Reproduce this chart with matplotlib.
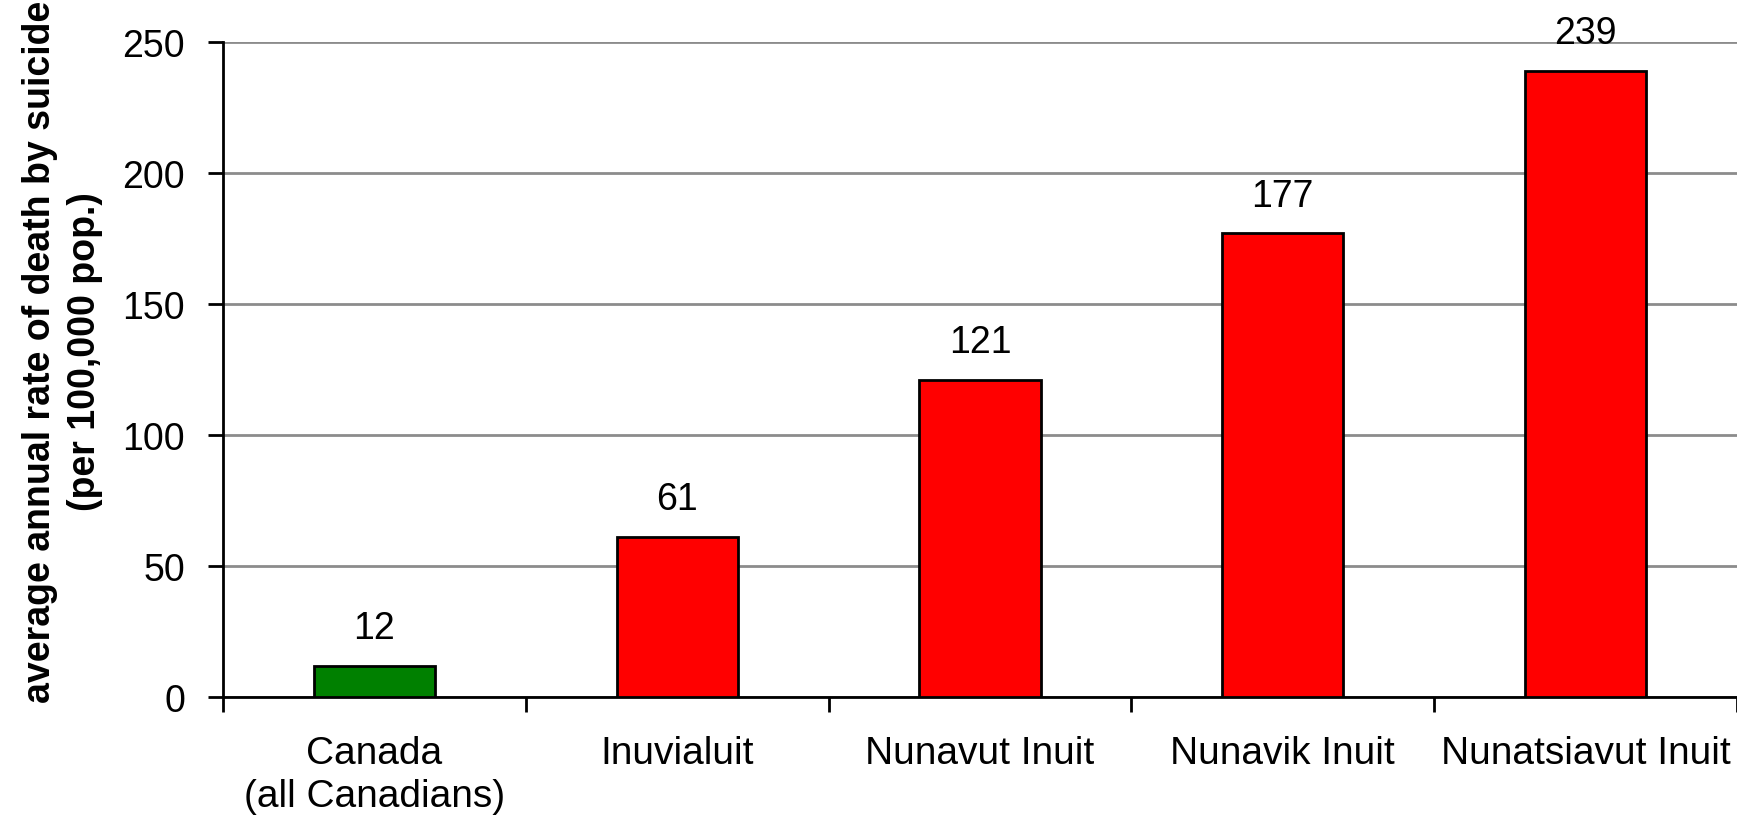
import matplotlib
matplotlib.use("Agg")
import matplotlib.pyplot as plt
import numpy as np

plt.rcParams['font.family'] = ['Liberation Sans', 'DejaVu Sans']

# data
categories = ['Canada\n(all Canadians)', 'Inuvialuit', 'Nunavut Inuit',
              'Nunavik Inuit', 'Nunatsiavut Inuit']
rates = [12, 61, 121, 177, 239]
colours = ['#008000', '#FF0000', '#FF0000', '#FF0000', '#FF0000']
yticks = [0, 50, 100, 150, 200, 250]

fig = plt.figure(figsize=(17.37, 8.28), dpi=100)
ax = fig.add_axes([0.1284, 0.157, 0.8716, 0.791])

x = np.arange(len(categories))
bars = ax.bar(x, rates, width=0.4, color=colours, edgecolor='black',
              linewidth=2, zorder=3)
for b, v in zip(bars, rates):
    ax.annotate(str(v), (b.get_x() + b.get_width() / 2, v),
                xytext=(0, 20), textcoords='offset points',
                ha='center', va='baseline', fontsize=27)

ax.set_xlim(-0.5, len(categories) - 0.5)
ax.set_ylim(0, 250)
ax.set_yticks(yticks)
ax.set_yticklabels([str(t) for t in yticks], fontsize=27)
ax.set_xticks(x)
ax.set_xticklabels(categories, fontsize=28, linespacing=1.25)
ax.set_xticks(np.arange(-0.5, len(categories)), minor=True)
ax.tick_params(axis='x', which='major', length=0, pad=27)
ax.tick_params(axis='x', which='minor', length=10.8, width=2, direction='out')
ax.tick_params(axis='y', length=10.8, width=2, direction='out', pad=16.5)

ax.yaxis.grid(True, color='#8c8c8c', linewidth=2, zorder=0)
ax.set_axisbelow(True)
for s in ['top', 'right']:
    ax.spines[s].set_visible(False)
for s in ['left', 'bottom']:
    ax.spines[s].set_linewidth(2)
    ax.spines[s].set_color('black')

fig.text(0.036, 0.575,
         'average annual rate of death by suicide\n(per 100,000 pop.)',
         rotation=90, ha='center', va='center', multialignment='center',
         fontsize=27, fontweight='bold', linespacing=1.3)

fig.savefig('out.png', dpi=100)
